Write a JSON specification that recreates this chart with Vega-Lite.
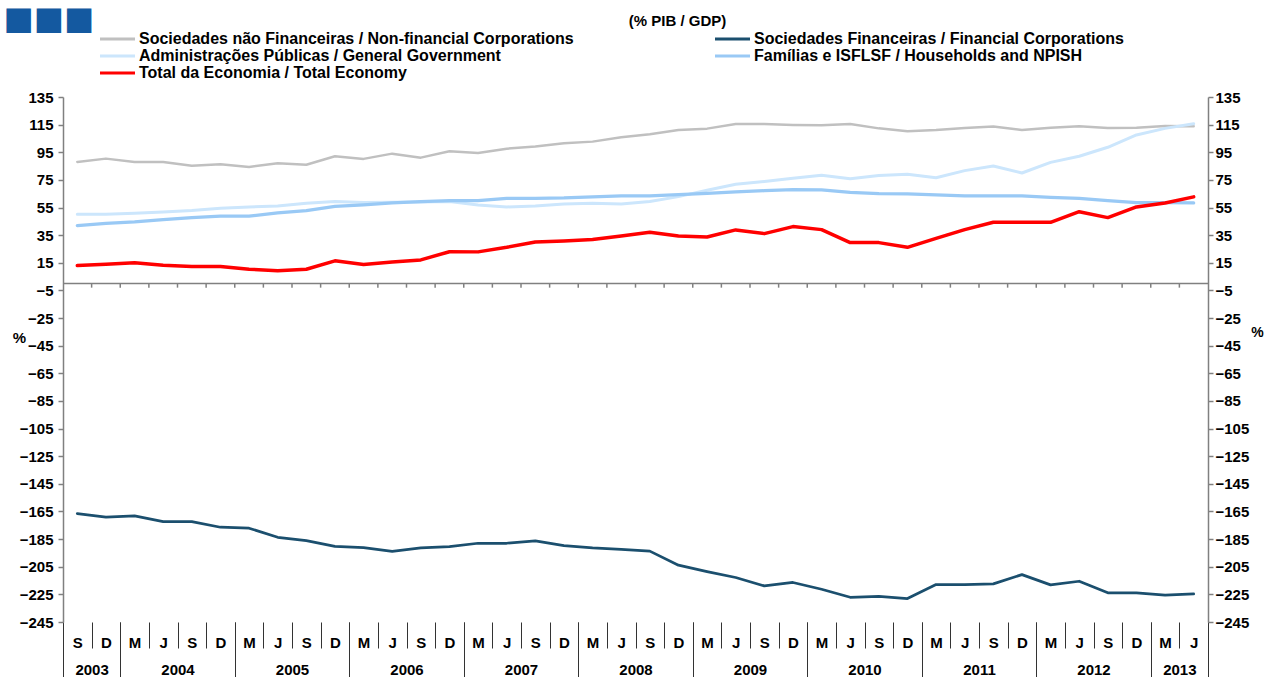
{
  "$schema": "https://vega.github.io/schema/vega-lite/v6.json",
  "width": 1145,
  "height": 525,
  "autosize": {"type": "none"},
  "padding": {"left": 63, "top": 97, "right": 57, "bottom": 55},
  "background": "white",
  "title": {"text": "(% PIB / GDP)", "font": "Liberation Sans", "fontSize": 15, "fontWeight": "bold", "color": "#000000", "anchor": "middle", "frame": "group", "dx": 42, "offset": -27},
  "config": {
    "view": {"stroke": null},
    "axis": {"labelFont": "Liberation Sans", "labelFontWeight": "bold", "labelFontSize": 15, "labelColor": "#000000", "grid": false, "titleFont": "Liberation Sans", "labelOverlap": false, "labelFlush": false, "labelBound": false},
    "legend": {"orient": "none", "legendX": 34, "legendY": -66, "columns": 2, "columnPadding": 135, "rowPadding": 1, "symbolType": "M-1,0H6", "symbolSize": 100, "symbolStrokeWidth": 3, "labelFont": "Liberation Sans", "labelFontWeight": "bold", "labelFontSize": 16, "labelColor": "#000000", "labelLimit": 1000, "labelOffset": 26, "padding": 0}
  },
  "datasets": {
    "serie": [
      {"i": 0, "nf": 88, "fin": -166.5, "ap": 50.1, "fam": 41.9, "tot": 13},
      {"i": 1, "nf": 90.4, "fin": -169.1, "ap": 50.1, "fam": 43.6, "tot": 14},
      {"i": 2, "nf": 88, "fin": -168.2, "ap": 50.8, "fam": 44.6, "tot": 15},
      {"i": 3, "nf": 88, "fin": -172.3, "ap": 51.8, "fam": 46.3, "tot": 13.2},
      {"i": 4, "nf": 85.3, "fin": -172.3, "ap": 52.8, "fam": 47.7, "tot": 12.3},
      {"i": 5, "nf": 86.3, "fin": -176.4, "ap": 54.5, "fam": 48.7, "tot": 12.3},
      {"i": 6, "nf": 84.4, "fin": -177.1, "ap": 55.4, "fam": 48.7, "tot": 10.3},
      {"i": 7, "nf": 87, "fin": -183.7, "ap": 56.1, "fam": 51.1, "tot": 9.3},
      {"i": 8, "nf": 86, "fin": -186.1, "ap": 58.1, "fam": 52.8, "tot": 10.3},
      {"i": 9, "nf": 92.1, "fin": -190.2, "ap": 59.3, "fam": 55.9, "tot": 16.4},
      {"i": 10, "nf": 90.2, "fin": -191.2, "ap": 58.6, "fam": 56.9, "tot": 13.8},
      {"i": 11, "nf": 94, "fin": -193.8, "ap": 58.8, "fam": 58.3, "tot": 15.6},
      {"i": 12, "nf": 91.1, "fin": -191.4, "ap": 59, "fam": 59.3, "tot": 17.1},
      {"i": 13, "nf": 95.7, "fin": -190.5, "ap": 59.3, "fam": 60, "tot": 23},
      {"i": 14, "nf": 94.5, "fin": -188, "ap": 56.9, "fam": 60, "tot": 22.9},
      {"i": 15, "nf": 97.6, "fin": -188, "ap": 55.4, "fam": 61.7, "tot": 26.2},
      {"i": 16, "nf": 99.1, "fin": -186.3, "ap": 56.1, "fam": 61.7, "tot": 30.1},
      {"i": 17, "nf": 101.5, "fin": -189.7, "ap": 57.6, "fam": 61.9, "tot": 30.8},
      {"i": 18, "nf": 102.7, "fin": -191.4, "ap": 58.1, "fam": 62.7, "tot": 31.8},
      {"i": 19, "nf": 105.8, "fin": -192.4, "ap": 57.6, "fam": 63.4, "tot": 34.4},
      {"i": 20, "nf": 108, "fin": -193.7, "ap": 59.3, "fam": 63.4, "tot": 37.1},
      {"i": 21, "nf": 111.1, "fin": -203.9, "ap": 62.9, "fam": 64.3, "tot": 34.4},
      {"i": 22, "nf": 112.1, "fin": -208.5, "ap": 67.5, "fam": 65.3, "tot": 33.7},
      {"i": 23, "nf": 115.5, "fin": -212.8, "ap": 71.8, "fam": 66.3, "tot": 38.8},
      {"i": 24, "nf": 115.5, "fin": -218.9, "ap": 73.8, "fam": 67.2, "tot": 36.1},
      {"i": 25, "nf": 114.8, "fin": -216.4, "ap": 76.2, "fam": 68, "tot": 41.2},
      {"i": 26, "nf": 114.5, "fin": -221.3, "ap": 78.3, "fam": 67.7, "tot": 39},
      {"i": 27, "nf": 115.5, "fin": -227.1, "ap": 75.9, "fam": 66, "tot": 29.6},
      {"i": 28, "nf": 112.3, "fin": -226.4, "ap": 78.1, "fam": 65.1, "tot": 29.6},
      {"i": 29, "nf": 110.2, "fin": -228, "ap": 79.1, "fam": 64.8, "tot": 26.2},
      {"i": 30, "nf": 111.1, "fin": -217.9, "ap": 76.6, "fam": 64.1, "tot": 32.7},
      {"i": 31, "nf": 112.6, "fin": -217.9, "ap": 81.7, "fam": 63.4, "tot": 39},
      {"i": 32, "nf": 113.6, "fin": -217.4, "ap": 85.1, "fam": 63.4, "tot": 44.3},
      {"i": 33, "nf": 111.1, "fin": -210.7, "ap": 80, "fam": 63.4, "tot": 44.3},
      {"i": 34, "nf": 112.8, "fin": -218.1, "ap": 87.7, "fam": 62.4, "tot": 44.3},
      {"i": 35, "nf": 113.8, "fin": -215.5, "ap": 92.1, "fam": 61.7, "tot": 52},
      {"i": 36, "nf": 112.6, "fin": -223.9, "ap": 98.6, "fam": 60, "tot": 47.7},
      {"i": 37, "nf": 112.8, "fin": -223.9, "ap": 107.5, "fam": 58.6, "tot": 55.4},
      {"i": 38, "nf": 114, "fin": -225.6, "ap": 112.3, "fam": 58.6, "tot": 58.3},
      {"i": 39, "nf": 113.8, "fin": -224.7, "ap": 115.7, "fam": 58.3, "tot": 62.7}
    ],
    "limites": [
      {"b": 0.5}, {"b": 1.5}, {"b": 2.5}, {"b": 3.5}, {"b": 4.5}, {"b": 5.5}, {"b": 6.5}, {"b": 7.5}, {"b": 8.5}, {"b": 9.5},
      {"b": 10.5}, {"b": 11.5}, {"b": 12.5}, {"b": 13.5}, {"b": 14.5}, {"b": 15.5}, {"b": 16.5}, {"b": 17.5}, {"b": 18.5}, {"b": 19.5},
      {"b": 20.5}, {"b": 21.5}, {"b": 22.5}, {"b": 23.5}, {"b": 24.5}, {"b": 25.5}, {"b": 26.5}, {"b": 27.5}, {"b": 28.5}, {"b": 29.5},
      {"b": 30.5}, {"b": 31.5}, {"b": 32.5}, {"b": 33.5}, {"b": 34.5}, {"b": 35.5}, {"b": 36.5}, {"b": 37.5}, {"b": 38.5}
    ],
    "zero": [{"a": -0.5, "b": 39.5, "z": 0}]
  },
  "layer": [
    {
      "data": {"name": "serie"},
      "transform": [{"fold": ["nf", "fin", "ap", "fam", "tot"], "as": ["serie", "valor"]}],
      "mark": {"type": "line", "strokeJoin": "round", "strokeCap": "round"},
      "encoding": {
        "x": {"field": "i", "type": "quantitative",
          "scale": {"domain": [-0.5, 39.5], "nice": false, "zero": false},
          "axis": {"orient": "bottom", "title": null, "labels": false, "domain": false, "tickSize": 26, "tickColor": "#333333", "tickWidth": 1,
            "values": [-0.5, 0.5, 1.5, 2.5, 3.5, 4.5, 5.5, 6.5, 7.5, 8.5, 9.5, 10.5, 11.5, 12.5, 13.5, 14.5, 15.5, 16.5, 17.5, 18.5, 19.5, 20.5, 21.5, 22.5, 23.5, 24.5, 25.5, 26.5, 27.5, 28.5, 29.5, 30.5, 31.5, 32.5, 33.5, 34.5, 35.5, 36.5, 37.5, 38.5, 39.5]}},
        "y": {"field": "valor", "type": "quantitative",
          "scale": {"domain": [-245, 135], "nice": false, "zero": false},
          "axis": {"orient": "left", "title": "%", "titleAngle": 0, "titleX": -44, "titleY": 240, "titleAlign": "center", "titleBaseline": "middle", "titleFontSize": 15, "titleFontWeight": "bold", "titleColor": "#000000",
            "domainColor": "#808080", "domainWidth": 1.5, "tickColor": "#808080", "tickWidth": 1.5, "tickSize": 5, "labelPadding": 5,
            "values": [-245, -225, -205, -185, -165, -145, -125, -105, -85, -65, -45, -25, -5, 15, 35, 55, 75, 95, 115, 135]}},
        "color": {"field": "serie", "type": "nominal",
          "scale": {"domain": ["nf", "ap", "tot", "fin", "fam"], "range": ["#c0c0c0", "#cce6fc", "#ff0000", "#1b4f6e", "#99c9f5"]},
          "legend": {"title": null, "labelExpr": "{'nf': 'Sociedades não Financeiras / Non-financial Corporations', 'fin': 'Sociedades Financeiras / Financial Corporations', 'ap': 'Administrações Públicas / General Government', 'fam': 'Famílias e ISFLSF / Households and NPISH', 'tot': 'Total da Economia / Total Economy'}[datum.label]"}},
        "strokeWidth": {"field": "serie", "type": "nominal",
          "scale": {"domain": ["nf", "fin", "ap", "fam", "tot"], "range": [2.5, 3.5, 3.5, 4, 4]}, "legend": null}
      }
    },
    {
      "data": {"name": "zero"},
      "mark": {"type": "rule", "color": "#808080", "strokeWidth": 1.5},
      "encoding": {
        "x": {"field": "a", "type": "quantitative",
          "axis": {"orient": "bottom", "title": null, "labels": false, "domain": false, "tickSize": 55, "tickColor": "#333333", "tickWidth": 1,
            "values": [-0.5, 1.5, 5.5, 9.5, 13.5, 17.5, 21.5, 25.5, 29.5, 33.5, 37.5, 39.5]}},
        "x2": {"field": "b"},
        "y": {"field": "z", "type": "quantitative",
          "axis": {"orient": "right", "title": "%", "titleAngle": 0, "titleX": 49, "titleY": 235, "titleAlign": "center", "titleBaseline": "middle", "titleFontSize": 14, "titleFontWeight": "bold", "titleColor": "#000000",
            "domainColor": "#808080", "domainWidth": 1.5, "tickColor": "#808080", "tickWidth": 1.5, "tickSize": 5, "labelPadding": 2,
            "values": [-245, -225, -205, -185, -165, -145, -125, -105, -85, -65, -45, -25, -5, 15, 35, 55, 75, 95, 115, 135]}}
      }
    },
    {
      "data": {"name": "limites"},
      "mark": {"type": "rule", "color": "#808080", "strokeWidth": 1.5},
      "encoding": {
        "x": {"field": "b", "type": "quantitative",
          "axis": {"orient": "bottom", "title": null, "domain": false, "ticks": false, "tickSize": 0, "labelPadding": 20, "labelBaseline": "middle",
            "values": [0, 1, 2, 3, 4, 5, 6, 7, 8, 9, 10, 11, 12, 13, 14, 15, 16, 17, 18, 19, 20, 21, 22, 23, 24, 25, 26, 27, 28, 29, 30, 31, 32, 33, 34, 35, 36, 37, 38, 39],
            "labelExpr": "['M', 'J', 'S', 'D'][(datum.value + 2) % 4]"}},
        "y": {"datum": 0, "axis": null},
        "y2": {"datum": -3}
      }
    },
    {
      "data": {"name": "limites"},
      "mark": {"type": "point", "opacity": 0},
      "encoding": {
        "x": {"field": "b", "type": "quantitative",
          "axis": {"orient": "bottom", "title": null, "domain": false, "ticks": false, "tickSize": 0, "labelPadding": 47, "labelBaseline": "middle",
            "values": [0.5, 3.5, 7.5, 11.5, 15.5, 19.5, 23.5, 27.5, 31.5, 35.5, 38.5],
            "labelExpr": "'' + (floor((datum.value + 2) / 4) + 2003)"}},
        "y": {"datum": 0, "axis": null}
      }
    },
    {
      "data": {"name": "zero"},
      "mark": {"type": "point", "opacity": 0},
      "encoding": {
        "x": {"field": "a", "type": "quantitative",
          "axis": {"orient": "top", "labels": false, "ticks": false, "domain": false, "title": "■■■", "titleFont": "DejaVu Sans", "titleFontSize": 32, "titleFontWeight": "normal", "titleColor": "#1459a0", "titleAlign": "left", "titleBaseline": "middle", "titleX": -60, "titleY": -79}},
        "y": {"datum": 0, "axis": null}
      }
    }
  ],
  "resolve": {"axis": {"x": "independent", "y": "independent"}}
}
